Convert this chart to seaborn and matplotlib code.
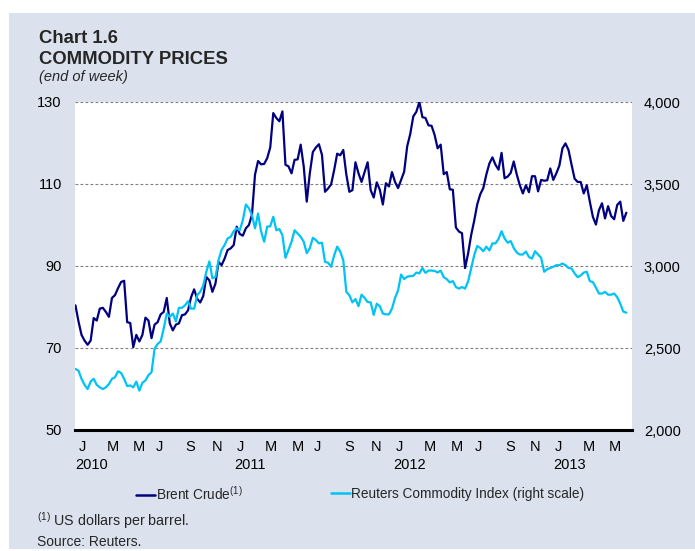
import pandas as pd
import matplotlib.pyplot as plt
from matplotlib.lines import Line2D
from matplotlib.patches import Rectangle
from matplotlib.ticker import FuncFormatter
import matplotlib.transforms as mtransforms
import seaborn as sns

# ----------------------------- Data (weekly, end of week) -----------------------------
FIRST_WEEK = "2010-01-01"

# Brent crude, US dollars per barrel (left scale)
brent_usd = [
    80.4, 76.5, 73.2, 71.8, 70.8, 71.8, 77.3, 76.7, 79.6, 79.8, 78.8, 77.6, 82.2, 82.9, 84.6, 86.1,
    86.4, 76.3, 76.1, 70.2, 73.2, 71.6, 73.2, 77.4, 76.7, 72.4, 75.7, 76.3, 78.2, 78.8, 82.2, 76.0,
    74.3, 75.7, 76.0, 78.0, 78.2, 79.2, 82.4, 84.3, 82.0, 81.1, 82.7, 87.3, 86.5, 83.7,
    85.7, 91.0, 90.2, 91.8, 93.9, 94.3, 95.1, 99.6, 97.8, 97.4, 99.2, 100.0, 102.5, 112.3, 115.6, 114.8,
    114.9, 116.3, 118.9, 127.3, 126.1, 125.3, 127.7, 114.7, 114.3, 112.6, 115.9, 116.0, 119.6, 114.3,
    105.7, 112.6, 117.8, 118.9, 119.7, 117.1, 108.1, 108.9, 109.9, 113.4, 117.4, 117.0, 118.3, 112.3,
    108.1, 108.5,
    115.3, 112.6, 110.5, 112.9, 115.3, 108.5, 106.7, 110.4, 108.6, 105.0, 110.2, 109.4, 112.9, 110.5,
    109.0, 111.0, 113.0, 119.2, 122.2, 126.5, 127.6, 130.0, 126.3, 126.1, 124.3, 124.2, 122.0, 118.7,
    119.6, 112.4, 112.9, 108.7, 108.6, 99.4, 98.4, 98.0, 89.5, 93.0, 97.5, 101.0, 105.0, 107.5, 109.0,
    112.3, 115.0,
    116.5, 114.7, 113.5, 117.6, 111.4, 111.8, 112.7, 115.5, 112.3, 109.7, 107.7, 109.7, 108.0, 111.9,
    111.9, 108.2, 111.0, 110.8, 110.9, 113.8, 111.0, 112.6, 114.5, 118.7, 119.9, 118.3, 114.7, 111.3,
    110.5, 110.5, 107.7, 109.7, 105.7, 102.0, 100.1, 103.6, 105.3, 101.6, 104.6, 102.2, 101.4, 104.9,
    105.7, 101.0, 103.0,
]

# Reuters commodity index (right scale)
reuters_index = [
    2372, 2362, 2312, 2275, 2250, 2295, 2312, 2275, 2260, 2250, 2260, 2280, 2312, 2322, 2358, 2348,
    2312, 2268, 2272, 2260, 2295, 2240, 2288, 2302, 2335, 2352, 2495, 2525, 2540, 2618, 2710, 2690,
    2710, 2662, 2745, 2745, 2760, 2785, 2740, 2740, 2822, 2842, 2882, 2965, 3028, 2925,
    2932, 3035, 3098, 3128, 3168, 3178, 3212, 3230, 3218, 3280, 3375, 3352, 3310, 3230, 3320, 3210,
    3148, 3240, 3242, 3300, 3218, 3225, 3188, 3050, 3098, 3148, 3218, 3198, 3178, 3148, 3078, 3108,
    3172, 3158, 3138, 3142, 3025, 3020, 2995, 3065, 3118, 3088, 3035, 2842, 2822, 2778,
    2798, 2755, 2825, 2805, 2780, 2778, 2702, 2770, 2755, 2710, 2705, 2705, 2740, 2805, 2852, 2948,
    2920, 2935, 2938, 2940, 2960, 2955, 2988, 2958, 2972, 2972, 2970, 2960, 2972, 2932, 2920, 2900,
    2908, 2872, 2862, 2872, 2862, 2905, 2985, 3065, 3122, 3110, 3090, 3118, 3095,
    3138, 3138, 3165, 3212, 3168, 3142, 3152, 3110, 3082, 3070, 3070, 3088, 3055, 3045, 3090, 3070,
    3050, 2965, 2980, 2988, 2995, 3005, 3005, 3015, 3005, 2988, 2985, 2955, 2932, 2942, 2960, 2965,
    2908, 2902, 2868, 2832, 2832, 2842, 2825, 2825, 2832, 2810, 2770, 2722, 2715,
]

month_ticks = [
    "2010-01-17", "2010-03-28", "2010-05-27", "2010-07-13", "2010-09-21", "2010-11-23",
    "2011-01-16", "2011-03-26", "2011-05-28", "2011-07-12", "2011-09-23", "2011-11-23",
    "2012-01-17", "2012-03-26", "2012-05-28", "2012-07-15", "2012-09-26", "2012-11-22",
    "2013-01-15", "2013-03-27", "2013-05-26",
]
month_labels = ["J", "M", "M", "J", "S", "N"] * 3 + ["J", "M", "M"]
year_ticks = ["2010-02-07", "2011-02-07", "2012-02-08", "2013-02-10"]
year_labels = ["2010", "2011", "2012", "2013"]

left_ticks = [50, 70, 90, 110, 130]
right_ticks = [2000, 2500, 3000, 3500, 4000]

# ----------------------------- Style -----------------------------
BG = "#dbe2ee"
NAVY = "#000080"
CYAN = "#00c3f5"
W, H = 695, 551

sns.set_theme(style="white")
plt.rcParams["font.family"] = ["Liberation Sans", "DejaVu Sans"]
plt.rcParams["mathtext.fontset"] = "custom"
plt.rcParams["mathtext.rm"] = "Liberation Sans"
plt.rcParams["mathtext.it"] = "Liberation Sans:italic"
plt.rcParams["mathtext.bf"] = "Liberation Sans:bold"

df = pd.DataFrame({
    "date": pd.date_range(FIRST_WEEK, periods=len(brent_usd), freq="W-FRI"),
    "brent": brent_usd,
    "reuters": reuters_index,
})

fig = plt.figure(figsize=(W / 100, H / 100), dpi=100, facecolor="white")
fig.patches.append(Rectangle((9 / W, 1 - 549 / H), 1 - 9 / W, (549 - 13) / H,
                             transform=fig.transFigure, facecolor=BG, edgecolor="none", zorder=-10))

ax = fig.add_axes([75 / W, 1 - 430 / H, (632 - 75) / W, (430 - 102) / H])
ax.set_facecolor("white")
ax2 = ax.twinx()

sns.lineplot(data=df, x="date", y="brent", ax=ax, color=NAVY, linewidth=1.6, zorder=3)
sns.lineplot(data=df, x="date", y="reuters", ax=ax2, color=CYAN, linewidth=1.6, zorder=3)

ax.set_xlim(pd.Timestamp("2009-12-31"), pd.Timestamp("2013-07-04"))
ax.set_ylim(50, 130)
ax2.set_ylim(2000, 4000)
ax.set_yticks(left_ticks)
ax2.set_yticks(right_ticks)
ax2.yaxis.set_major_formatter(FuncFormatter(lambda v, p: f"{v:,.0f}"))

ax.set_xticks(pd.to_datetime(month_ticks))
ax.set_xticklabels(month_labels)
ax.set_xlabel("")
ax.set_ylabel("")
ax2.set_ylabel("")

ax.yaxis.grid(True, linestyle=(0, (2.5, 2)), color="#7f7f7f", linewidth=0.8)
ax.xaxis.grid(False)
ax.set_axisbelow(True)

for a in (ax, ax2):
    for side in ("top", "left", "right", "bottom"):
        a.spines[side].set_visible(False)
ax.spines["bottom"].set_visible(True)
ax.spines["bottom"].set_color("black")
ax.spines["bottom"].set_linewidth(2.2)
ax.spines["bottom"].set_zorder(5)

ax.tick_params(axis="x", length=0, pad=7, labelsize=10.5, colors="black")
ax.tick_params(axis="y", length=0, pad=9.5, labelsize=10.5, colors="black")
ax2.tick_params(axis="y", length=0, pad=8.5, labelsize=10.5, colors="black")

trans = mtransforms.blended_transform_factory(ax.transData, ax.transAxes)
for d, lab in zip(year_ticks, year_labels):
    ax.text(pd.Timestamp(d), -0.107, lab, transform=trans, ha="center", va="center",
            fontsize=10.5, color="black")

# ----------------------------- Titles -----------------------------
fig.text(39 / W, 1 - 43 / H, "Chart 1.6", fontsize=13.3, fontweight="bold", va="baseline")
fig.text(39 / W, 1 - 64 / H, "COMMODITY PRICES", fontsize=13.3, fontweight="bold", va="baseline")
fig.text(39 / W, 1 - 81 / H, "(end of week)", fontsize=10.5, style="italic", va="baseline")

# ----------------------------- Legend -----------------------------
leg_y = 1 - 494 / H
for x0, col, lab in [(136, NAVY, r"Brent Crude$^{\rm (1)}$"),
                     (331, CYAN, "Reuters Commodity Index (right scale)")]:
    handle = Line2D([], [], color=col, linewidth=1.8)
    fig.legend([handle], [lab], loc="center left", bbox_to_anchor=(x0 / W, leg_y),
               frameon=False, borderpad=0, borderaxespad=0, handlelength=1.4,
               handletextpad=0.1, fontsize=9.8)

# ----------------------------- Footnotes -----------------------------
fig.text(37 / W, 1 - 521 / H, r"$^{\rm (1)}$ US dollars per barrel.", fontsize=10.3, va="center")
fig.text(37 / W, 1 - 542 / H, "Source: Reuters.", fontsize=10, va="center")

fig.savefig("out.png", dpi=100, facecolor=fig.get_facecolor())
